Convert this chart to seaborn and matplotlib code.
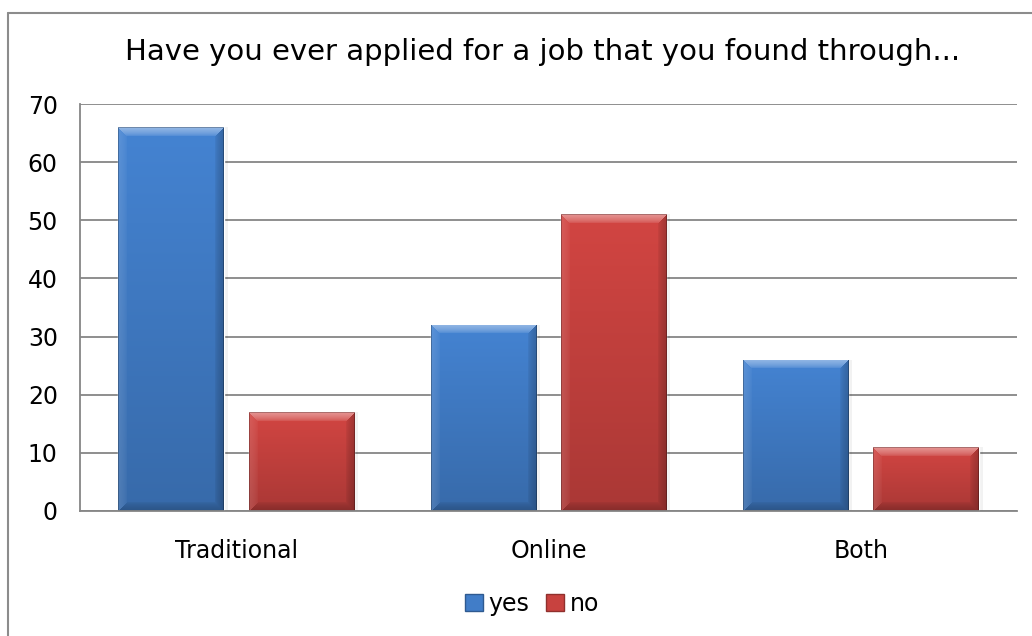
import numpy as np
import pandas as pd
import matplotlib
matplotlib.use("Agg")
import matplotlib.pyplot as plt
from matplotlib.patches import Rectangle
from matplotlib.lines import Line2D
import seaborn as sns

# Survey answers per job-search channel
categories = ["Traditional", "Online", "Both"]
yes_counts = [66, 32, 26]
no_counts = [17, 51, 11]
series_names = ["yes", "no"]
y_ticks = [0, 10, 20, 30, 40, 50, 60, 70]

title = "Have you ever applied for a job that you found through..."

df = pd.DataFrame({
    "channel": categories * 2,
    "answer": ["yes"] * len(categories) + ["no"] * len(categories),
    "count": yes_counts + no_counts,
})

blue = np.array([0x41, 0x7D, 0xC8]) / 255.0
red = np.array([0xC8, 0x42, 0x3F]) / 255.0
palette = {"yes": tuple(blue), "no": tuple(red)}

sns.set_theme(style="white")
plt.rcParams["font.family"] = ["DejaVu Sans"]
plt.rcParams["text.color"] = "black"

W, H = 1032, 636
fig = plt.figure(figsize=(W / 100, H / 100), dpi=100)
fig.patch.set_facecolor("white")

ax_left, ax_right, ax_top, ax_bottom = 80, 1017, 104, 511
ax = fig.add_axes([ax_left / W, 1 - ax_bottom / H,
                   (ax_right - ax_left) / W, (ax_bottom - ax_top) / H])

sns.barplot(data=df, x="channel", y="count", hue="answer", order=categories,
            hue_order=series_names, palette=palette, width=0.833, gap=0.19,
            saturation=1.0, legend=False, ax=ax, zorder=3)

ax.set_ylim(0, 70)
ax.set_xlim(-0.5, len(categories) - 0.5)
ax.set_yticks(y_ticks)
ax.set_xlabel("")
ax.set_ylabel("")
ax.tick_params(axis="both", length=0, labelsize=17, colors="black")
ax.tick_params(axis="y", pad=16)
ax.tick_params(axis="x", pad=20)
ax.yaxis.grid(True, color="#868686", linewidth=1.3, zorder=0)
ax.set_axisbelow(True)
for side in ["top", "right"]:
    ax.spines[side].set_visible(False)
for side in ["left", "bottom"]:
    ax.spines[side].set_color("#868686")
    ax.spines[side].set_linewidth(1.3)
    ax.spines[side].set_zorder(5)


def bevel_image(base, pw, ph, b=9.0):
    """Vertically graded fill with a soft bevel on every edge."""
    img = np.tile(base, (ph, pw, 1))
    ys = np.linspace(0, 1, ph)
    img = img * (1.05 - 0.20 * ys)[:, None, None]
    yy, xx = np.mgrid[0:ph, 0:pw]
    dt, db = yy, ph - 1 - yy
    dl, dr = xx, pw - 1 - xx
    dmin = np.minimum(np.minimum(dt, db), np.minimum(dl, dr))
    s = np.clip(1 - dmin / b, 0, 1) ** 0.6
    top = dt == dmin
    left = (dl == dmin) & ~top
    right = (dr == dmin) & ~top
    bottom = (db == dmin) & ~top & ~left & ~right
    for mask, amt in [(top, 0.42), (left, 0.12)]:
        k = (s * amt)[mask][:, None]
        img[mask] = img[mask] + (1 - img[mask]) * k
    for mask, amt in [(right, 0.22), (bottom, 0.20)]:
        k = (s * amt)[mask][:, None]
        img[mask] = img[mask] * (1 - k)
    outline = dmin < 1
    img[outline] = img[outline] * 0.75
    return np.clip(img, 0, 1)


px_per_unit = (ax_bottom - ax_top) / 70.0
px_per_cat = (ax_right - ax_left) / 3.0
bars = [p for p in ax.patches if p.get_height() > 0]
for patch in bars:
    x0 = patch.get_x()
    w = patch.get_width()
    h = patch.get_height()
    base = np.array(patch.get_facecolor()[:3])
    pw = max(int(round(w * px_per_cat)), 4)
    ph = max(int(round(h * px_per_unit)), 4)
    im = ax.imshow(bevel_image(base, pw, ph), extent=(x0, x0 + w, 0, h),
                   origin="upper", aspect="auto", interpolation="nearest",
                   zorder=4)
    im.set_clip_path(patch)
    # soft drop shadow on the right
    ax.add_patch(Rectangle((x0 + w, 0), 4 / px_per_cat, h,
                           facecolor="#000000", alpha=0.05, edgecolor="none",
                           zorder=2))

ax.set_ylim(0, 70)
ax.set_xlim(-0.5, len(categories) - 0.5)

fig.text(543 / W, 1 - 52 / H, title, ha="center", va="center", fontsize=21,
         color="black")

handles = [Rectangle((0, 0), 1, 1, facecolor=palette[n],
                     edgecolor=tuple(np.array(palette[n]) * 0.72), linewidth=1)
           for n in series_names]
fig.legend(handles, series_names, loc="center", bbox_to_anchor=(532 / W, 1 - 604 / H),
           ncol=2, frameon=False, fontsize=17, handlelength=0.75, handleheight=0.75,
           handletextpad=0.25, columnspacing=0.7, borderpad=0, labelcolor="black")

# chart frame
frame_color = "#8c8c8c"
fig.add_artist(Line2D([8 / W, 8 / W], [0, 1 - 13 / H], transform=fig.transFigure,
                      color=frame_color, linewidth=1.5))
fig.add_artist(Line2D([8 / W, 1], [1 - 13 / H, 1 - 13 / H], transform=fig.transFigure,
                      color=frame_color, linewidth=1.5))

fig.savefig("out.png", dpi=100, facecolor="white")
